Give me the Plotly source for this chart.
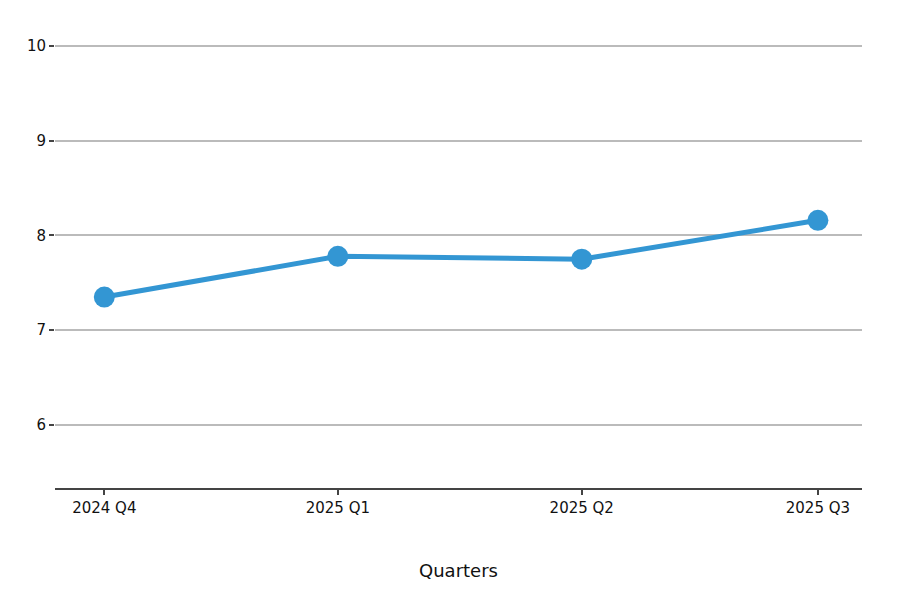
import plotly.graph_objects as go

# quarter labels and the dates they are plotted at
quarters = ['2024 Q4', '2025 Q1', '2025 Q2', '2025 Q3']
quarter_dates = ['2024-11-15', '2025-02-13', '2025-05-18', '2025-08-17']
values = [7.35, 7.78, 7.75, 8.16]

LINE_COLOR = '#3396d3'
AXIS_COLOR = '#444444'
GRID_COLOR = '#bbbbbb'

trace = go.Scatter(
    x=quarter_dates,
    y=values,
    mode='lines+markers',
    line=dict(color=LINE_COLOR, width=5),
    marker=dict(color=LINE_COLOR, size=21),
    showlegend=False,
)

layout = go.Layout(
    width=900,
    height=609,
    margin=dict(l=47, r=46, t=12, b=129),
    paper_bgcolor='white',
    plot_bgcolor='white',
    font=dict(family='DejaVu Sans', size=15, color='#111111'),
    xaxis=dict(
        type='date',
        range=['2024-10-27', '2025-09-03'],
        tickmode='array',
        tickvals=quarter_dates,
        ticktext=quarters,
        ticks='outside',
        ticklen=5,
        tickwidth=1.5,
        tickcolor=AXIS_COLOR,
        showline=True,
        linecolor=AXIS_COLOR,
        linewidth=2,
        showgrid=False,
        zeroline=False,
        title=dict(text='Quarters', standoff=48),
    ),
    yaxis=dict(
        range=[5.335, 10.274],
        tickmode='array',
        tickvals=[6, 7, 8, 9, 10],
        ticks='outside',
        ticklen=5,
        tickwidth=1.5,
        tickcolor=AXIS_COLOR,
        showline=False,
        showgrid=True,
        gridcolor=GRID_COLOR,
        gridwidth=1.5,
        zeroline=False,
    ),
)

fig = go.Figure(data=[trace], layout=layout)
fig.write_html('out.html')
